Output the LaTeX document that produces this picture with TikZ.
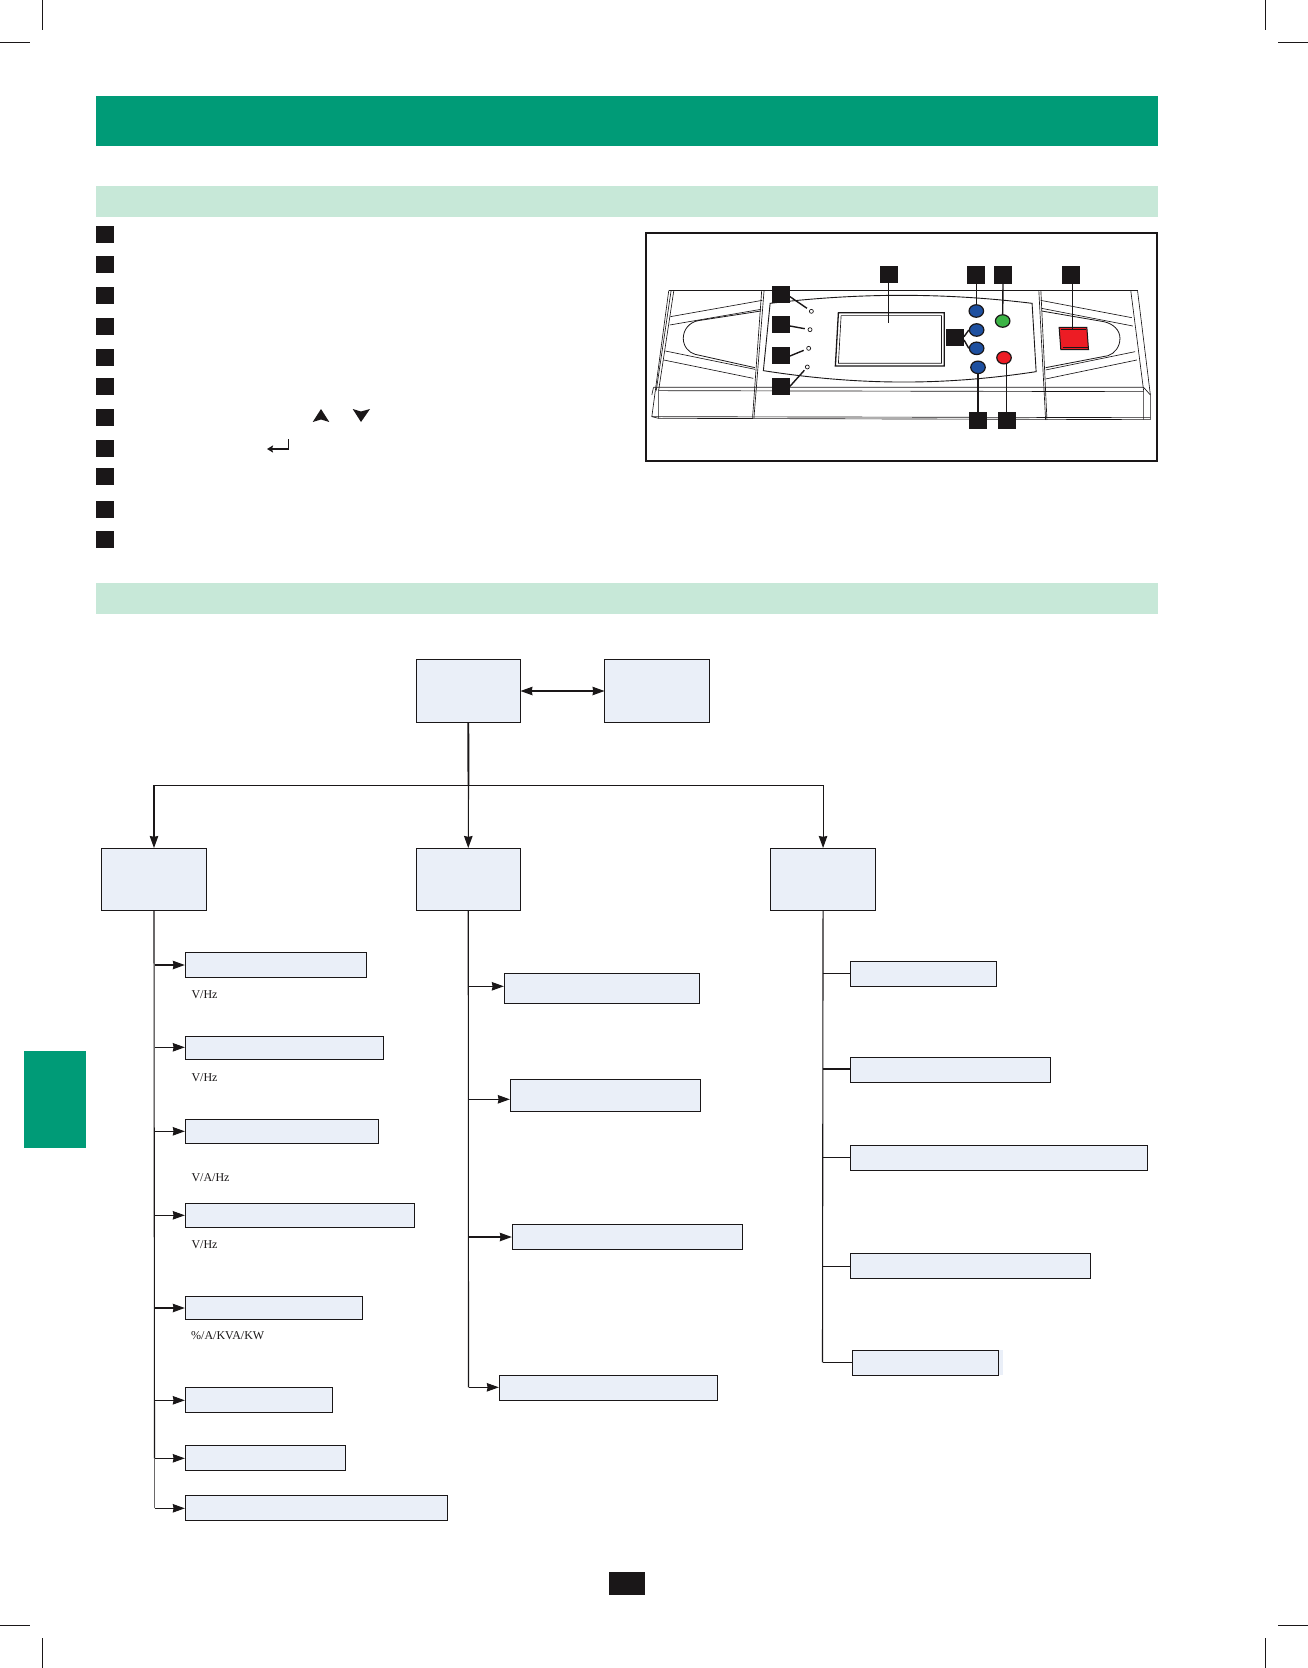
\documentclass[tikz,border=0pt]{standalone}
\usepackage{fontspec}
\setmainfont{Liberation Serif}
\usetikzlibrary{arrows.meta,shapes.geometric}
\definecolor{ink}{HTML}{1A1718}
\definecolor{bandgreen}{HTML}{009B77}
\definecolor{palegreen}{HTML}{C7E8D8}
\definecolor{boxfill}{HTML}{EAEFF8}
\tikzset{
  crop/.style={draw=ink,line width=1pt},
  marker/.style={fill=ink,draw=none,inner sep=0pt,outer sep=0pt,minimum width=18pt,minimum height=17pt},
  leader/.style={draw=ink,line width=1.4pt},
  shell/.style={draw=ink,line width=.65pt},
  flowbox/.style={draw=ink,fill=boxfill,line width=1pt,inner sep=0pt,outer sep=0pt,anchor=north west},
  conn/.style={draw=ink,line width=1.1pt},
  arr/.style={conn,-{Stealth[length=12pt,width=8.5pt,inset=.8pt]},shorten >=.5pt},
  dblarr/.style={conn,{Stealth[length=12pt,width=8.5pt,inset=.8pt]}-{Stealth[length=12pt,width=8.5pt,inset=.8pt]}},
  unit/.style={anchor=base west,inner sep=0pt,text=ink,font=\fontsize{12}{14}\selectfont},
  knob/.style={ellipse,draw=ink,line width=1.2pt,inner sep=0pt,minimum width=14.5pt,minimum height=12.5pt},
  led/.style={circle,draw=ink,line width=.7pt,fill=white,inner sep=0pt,minimum size=4pt}
}
\begin{document}
\begin{tikzpicture}[x=1pt,y=-1pt]
\useasboundingbox (0,0) rectangle (1308,1668);
% crop marks
\draw[crop] (42.3,0) -- (42.3,30) (0,42.3) -- (30,42.3);
\draw[crop] (1265.7,0) -- (1265.7,30) (1278,42.3) -- (1308,42.3);
\draw[crop] (42.3,1638) -- (42.3,1668) (0,1625.7) -- (30,1625.7);
\draw[crop] (1265.7,1638) -- (1265.7,1668) (1278,1625.7) -- (1308,1625.7);
% bands
\fill[bandgreen] (96,96) rectangle (1158,146);
\fill[palegreen] (96,186) rectangle (1158,217);
\fill[palegreen] (96,582.5) rectangle (1158,613.5);
\fill[bandgreen] (24,1051) rectangle (86,1147.5);
\fill[ink] (609,1572) rectangle (645,1595);
% list markers
\foreach \n/\y in {1/226,2/256,3/287,4/318,5/349,6/378,7/409,8/440,9/468,10/501,11/531}
  \node[marker,anchor=north west] (item\n) at (96,\y) {};
% key glyphs
\fill[ink] (312.7,422) -- (321,409) -- (329.3,422) -- (321,419.5) -- cycle;
\fill[ink] (352.7,409) -- (361,411.5) -- (370,409) -- (361,422) -- cycle;
\draw[ink,line width=1.2pt,-{Stealth[length=6pt,width=7pt,inset=1pt]}] (288.7,439) -- (288.7,449) -- (267,449);
% panel frame
\draw[ink,line width=1.6pt] (645.8,232.8) rectangle (1157,461);
\begin{scope}[shift={(640,225)},x=.338pt,y=-.3333pt]
  % outer shell
  \draw[shell] (85,197) -- (1472,197);
  \draw[shell] (85,197) -- (35,575) -- (55,580) -- (1510,584) -- (1510,510) -- (1472,197);
  \draw[shell] (100,197) -- (55,497) -- (55,580);
  \draw[shell] (92,197) -- (48,497);
  \draw[shell] (1452,197) -- (1490,497) -- (1490,584);
  \draw[shell] (40,487) -- (1490,487) -- (1510,510);
  \draw[shell] (35,510) -- (40,487);
  \draw[shell] (55,497) -- (1490,500);
  \draw[shell] (35,575) -- (1510,578);
  \draw[shell] (367,197) -- (337,580);
  \draw[shell] (360,197) -- (333,578);
  \draw[shell] (1180,197) -- (1200,585);
  \draw[shell] (1186,197) -- (1204,585);
  % left recess
  \draw[shell] (90,275) -- (362,226);
  \draw[shell] (88,300) -- (358,253);
  \draw[shell,line width=.8pt] (358,258) -- (172,287) .. controls (145,292) and (128,315) .. (128,340) .. controls (128,365) and (145,383) .. (163,388) -- (340,428);
  \draw[shell] (75,378) -- (340,433);
  \draw[shell] (70,405) -- (335,460);
  % right recess
  \draw[shell] (1185,226) -- (1455,278);
  \draw[shell] (1188,250) -- (1458,303);
  \draw[shell,line width=.8pt] (1188,258) -- (1372,290) .. controls (1400,296) and (1420,315) .. (1420,340) .. controls (1420,365) and (1405,385) .. (1385,392) -- (1200,428);
  \draw[shell] (1200,435) -- (1465,380);
  \draw[shell] (1200,462) -- (1470,405);
  % centre plate
  \draw[shell,line width=.9pt,fill=white] (385,235) .. controls (650,203) and (900,203) .. (1160,235) -- (1172,440) .. controls (900,482) and (650,482) .. (365,437) -- cycle;
  % screen
  \draw[ink,line width=1.3pt] (587,263) -- (900,263) -- (900,423) -- (578,423) -- cycle;
  \draw[shell] (595,272) -- (892,272) -- (892,415) -- (587,415) -- cycle;
  % red key
  \path[fill={rgb,255:red,237;green,28;blue,36},draw=ink,line width=1pt] (1240,307) -- (1322,307) -- (1327,374) -- (1245,374) -- cycle;
  \draw[ink,line width=.5pt] (1247,313) -- (1320,313) (1250,368) -- (1325,368);
  % buttons and lamps
  \node[knob,fill={rgb,255:red,30;green,80;blue,160}] (kb1) at (995,258) {};
  \node[knob,fill={rgb,255:red,30;green,80;blue,160}] (kb2) at (996,315) {};
  \node[knob,fill={rgb,255:red,30;green,80;blue,160}] (kb3) at (996,370) {};
  \node[knob,fill={rgb,255:red,30;green,80;blue,160}] (kb4) at (1000,427) {};
  \node[knob,fill={rgb,255:red,60;green,180;blue,70}] (kg) at (1073,288) {};
  \node[knob,fill={rgb,255:red,237;green,28;blue,36}] (kr) at (1077,398) {};
  \node[led] (l1) at (507,259) {};
  \node[led] (l2) at (503,314) {};
  \node[led] (l3) at (499,370) {};
  \node[led] (l4) at (495,426) {};
  \coordinate (scr) at (736,293);
  \coordinate (redkey) at (1280,315);
  % numbered markers
  \node[marker] (m1) at (736,149) {};
  \node[marker] (m2) at (995,150) {};
  \node[marker] (m3) at (1074,150) {};
  \node[marker] (m4) at (1274,150) {};
  \node[marker] (m5) at (417,210) {};
  \node[marker] (m6) at (417,298) {};
  \node[marker] (m7) at (417,391) {};
  \node[marker] (m8) at (417,484) {};
  \node[marker] (m9) at (932,337) {};
  \node[marker] (m10) at (1001,586) {};
  \node[marker] (m11) at (1085,586) {};
  % leaders
  \draw[leader] (m1.south) -- (scr);
  \draw[leader] (m2.south) -- (kb1.north);
  \draw[leader] (m3.south) -- (kg.north);
  \draw[leader] (m4.south -| redkey) -- (redkey);
  \draw[leader,shorten >=3pt] (m5.east) ++(0,5) -- (l1);
  \draw[leader,shorten >=3pt] (m6.east) ++(0,5) -- (l2);
  \draw[leader,shorten >=3pt] (m7.east) ++(0,2) -- (l3);
  \draw[leader,shorten >=2pt] (m8.east) -- (l4);
  \draw[leader] (m9.east) ++(0,-2) -- (kb2.west);
  \draw[leader] (m9.east) ++(0,8) -- (kb3.west);
  \draw[leader] (m10.north -| kb4) -- (kb4.south);
  \draw[leader,shorten >=-1.5pt] (m11.north) -- (m11.north |- kr.south);
\end{scope}
% flow chart: top level
\node[flowbox,minimum width=104.5pt,minimum height=63pt] (A) at (416,659.5) {};
\node[flowbox,minimum width=105pt,minimum height=63pt] (B) at (604.5,659.5) {};
\node[flowbox,minimum width=105pt,minimum height=62pt] (C) at (101.5,848.5) {};
\node[flowbox,minimum width=104.5pt,minimum height=62pt] (D) at (416,848.5) {};
\node[flowbox,minimum width=105.5pt,minimum height=62pt] (E) at (770.3,848.5) {};
\draw[dblarr] (A.east) -- (B.west);
\coordinate (J) at (468.5,785.5);
\draw[conn,line width=1.9pt] (A.south) -- (J);
\draw[arr] (J) -- (D.north);
\draw[arr] (J) -| (C.north);
\draw[arr] (J) -| (E.north);
% left column
\node[flowbox,minimum width=181.4pt,minimum height=25.4pt] (L1) at (185.3,952.3) {};
\node[flowbox,minimum width=198.4pt,minimum height=23.4pt] (L2) at (185.3,1036.3) {};
\node[flowbox,minimum width=193.4pt,minimum height=24.4pt] (L3) at (185.3,1119.3) {};
\node[flowbox,minimum width=229.4pt,minimum height=24.4pt] (L4) at (185.3,1203.3) {};
\node[flowbox,minimum width=177.4pt,minimum height=23.4pt] (L5) at (185.3,1296.3) {};
\node[flowbox,minimum width=147.4pt,minimum height=25.4pt] (L6) at (185.3,1387.3) {};
\node[flowbox,minimum width=160.4pt,minimum height=25.4pt] (L7) at (185.3,1445.3) {};
\node[flowbox,minimum width=262.4pt,minimum height=25pt] (L8) at (185.3,1495.3) {};
\foreach \n/\y in {1/965,2/1047.3,3/1131.3,4/1215.3,5/1308,6/1400.3,7/1458.3,8/1508.3}
  \coordinate (ls\n) at (154.5,\y);
\draw[conn] (C.south) -- (ls7);
\draw[conn,draw=ink!65,line width=1.3pt] (ls7) -- (ls8);
\foreach \n in {1,...,8}
  \draw[arr] (ls\n) -- (ls\n -| L\n.west);
\node[unit] (u1) at (191.3,998.3) {V/Hz};
\node[unit] (u2) at (191.3,1081.5) {V/Hz};
\node[unit] (u3) at (191.3,1181.2) {V/A/Hz};
\node[unit] (u4) at (191.3,1248.8) {V/Hz};
\node[unit] (u5) at (191,1339.3) {\%/A/KVA/KW};
% middle column
\node[flowbox,minimum width=195.4pt,minimum height=30pt] (M1) at (504.3,973.3) {};
\node[flowbox,minimum width=190.4pt,minimum height=32.4pt] (M2) at (510.3,1079.3) {};
\node[flowbox,minimum width=230.4pt,minimum height=25pt] (M3) at (512.3,1224.3) {};
\node[flowbox,minimum width=218.4pt,minimum height=25pt] (M4) at (499.3,1375.3) {};
\foreach \n/\y in {1/986.3,2/1099.3,3/1237,4/1387.3}
  \coordinate (ms\n) at (468.5,\y);
\draw[conn] (D.south) -- (ms4);
\foreach \n in {1,...,4}
  \draw[arr] (ms\n) -- (ms\n -| M\n.west);
% right column
\fill[boxfill] (990,1350.3) rectangle (1003,1375);
\node[flowbox,minimum width=146.4pt,minimum height=25pt] (R1) at (850.3,961.3) {};
\node[flowbox,minimum width=200.4pt,minimum height=25.4pt] (R2) at (850.3,1057.3) {};
\node[flowbox,minimum width=297.4pt,minimum height=25pt] (R3) at (850.3,1145.3) {};
\node[flowbox,minimum width=240.4pt,minimum height=25pt] (R4) at (850.3,1253.3) {};
\node[flowbox,minimum width=146.4pt,minimum height=25pt] (R5) at (852.3,1350.3) {};
\foreach \n/\y in {1/973.3,2/1069,3/1157.3,4/1266.3,5/1362.3}
  \coordinate (rs\n) at (822.5,\y);
\draw[conn] (E.south) -- (rs5);
\foreach \n in {1,...,5}
  \draw[conn] (rs\n) -- (rs\n -| R\n.west);
\end{tikzpicture}
\end{document}
